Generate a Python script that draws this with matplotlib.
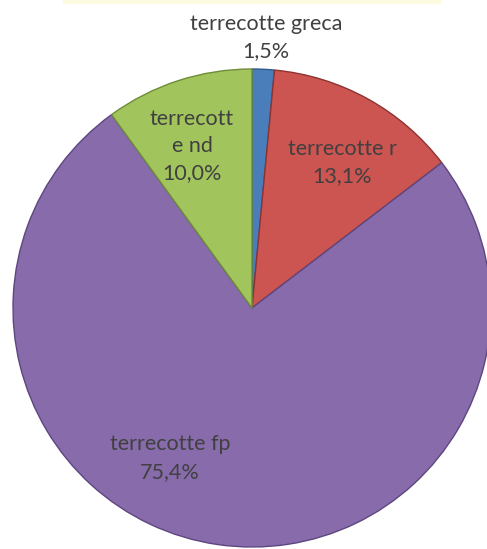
import matplotlib.pyplot as plt
from matplotlib.patches import Rectangle

# data
labels = ["terrecotte greca", "terrecotte r", "terrecotte fp", "terrecott\ne nd"]
values = [1.5, 13.1, 75.4, 10.0]
pct_text = ["1,5%", "13,1%", "75,4%", "10,0%"]
colors = ["#4a7ebb", "#cc5451", "#876bab", "#a1c45c"]
edges = ["#2f5a8c", "#8e3331", "#5e4680", "#6f8c38"]

# where Excel put each label (data coords, pie radius = 1)
label_pos = [(0.059, 1.13), (0.377, 0.607), (-0.343, -0.628), (-0.251, 0.678)]

fig = plt.figure(figsize=(4.87, 5.49), dpi=100)
fig.patches.append(Rectangle((63 / 487, 1 - 3 / 549), 377 / 487, 3 / 549,
                             transform=fig.transFigure, color="#fdfbe0", zorder=0))

ax = fig.add_axes([13 / 487, 2 / 549, 478 / 487, 478 / 549])
wedges, _ = ax.pie(values, colors=colors, startangle=90, counterclock=False,
                   radius=1, wedgeprops=dict(linewidth=1.0))
for w, ec in zip(wedges, edges):
    w.set_edgecolor(ec)

for lab, pct, (x, y) in zip(labels, pct_text, label_pos):
    ax.text(x, y, lab + "\n" + pct, ha="center", va="center", fontsize=15.5,
            color="#404040", family="Lato", linespacing=1.45, clip_on=False)

ax.set_xlim(-1, 1)
ax.set_ylim(-1, 1)
ax.set_aspect("equal")
ax.axis("off")

fig.savefig("out.png", dpi=100)
